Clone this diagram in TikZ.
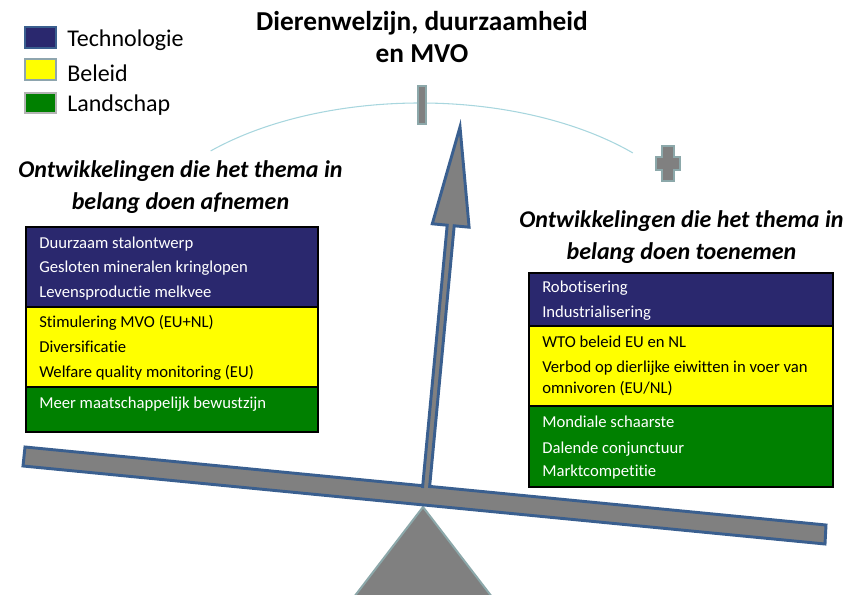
\documentclass[tikz,border=0pt]{standalone}
\usepackage{fontspec}
\setmainfont[Ligatures={NoCommon}]{Carlito}
\definecolor{navy}{RGB}{42,40,110}
\definecolor{ylw}{RGB}{255,255,0}
\definecolor{grn}{RGB}{0,128,0}
\definecolor{beamblue}{RGB}{58,95,143}
\definecolor{gryfill}{RGB}{128,128,128}
\definecolor{tealgray}{RGB}{140,168,170}
\definecolor{arcblue}{RGB}{168,214,222}
\definecolor{ylwedge}{RGB}{142,165,174}
\definecolor{grnedge}{RGB}{180,180,180}
\tikzset{
  boxtxt/.style={anchor=base west,inner sep=0pt,font=\fontsize{12.5}{15}\selectfont},
  wtxt/.style={boxtxt,text=white},
  btxt/.style={boxtxt,text=black},
  legtxt/.style={anchor=base west,inner sep=0pt,font=\fontsize{18}{21}\selectfont},
  headtxt/.style={anchor=base,inner sep=0pt,font=\fontsize{18}{22}\selectfont\bfseries\itshape},
  titletxt/.style={anchor=base,inner sep=0pt,font=\fontsize{20.5}{24}\selectfont\bfseries},
  outerbox/.style={draw=black,line width=2.2pt},
  divline/.style={draw=black,line width=0.8pt},
}
\begin{document}
\begin{tikzpicture}[x=0.75pt,y=-0.75pt]
\useasboundingbox (0,0) rectangle (846,595);
\clip (0,0) rectangle (846,595);
% legend
\draw[fill=navy,draw=beamblue,line width=1.6pt] (25,27) rectangle (56,48);
\draw[fill=ylw,draw=ylwedge,line width=1.6pt] (25,59) rectangle (56,80);
\draw[fill=grn,draw=grnedge,line width=1.6pt] (25,93) rectangle (56,113);
\node[legtxt] (lt) at (67,47) {Technologie};
\node[legtxt] (lb) at (67,82) {Beleid};
\node[legtxt] (ll) at (67,112) {Landschap};
% title
\node[titletxt] (t1) at (422,31) {Dierenwelzijn, duurzaamheid};
\node[titletxt] (t2) at (422,63) {en MVO};
% arc
\draw[arcblue,line width=0.8pt] (420,260) ++(224:291 and 157) arc[start angle=224,end angle=317,x radius=291,y radius=157];
% minus sign
\draw[fill=gryfill,draw=tealgray,line width=2pt] (418,86) rectangle (426,124);
% plus sign
\draw[fill=gryfill,draw=tealgray,line width=2pt]
  (662,146) -- (674,146) -- (674,157) -- (680,157) -- (680,170) -- (674,170) -- (674,181) -- (662,181) -- (662,170) -- (656,170) -- (656,157) -- (662,157) -- cycle;
% headings
\node[headtxt] (hl1) at (180.5,178) {Ontwikkelingen die het thema in};
\node[headtxt] (hl2) at (180.5,210) {belang doen afnemen};
\node[headtxt] (hr1) at (681.5,228) {Ontwikkelingen die het thema in};
\node[headtxt] (hr2) at (681.5,260) {belang doen toenemen};
% left box
\fill[navy] (26,227) rectangle (318,307);
\fill[ylw] (26,307) rectangle (318,387);
\fill[grn] (26,387) rectangle (318,432);
\draw[divline] (26,307) -- (318,307);
\draw[divline] (26,387) -- (318,387);
\draw[outerbox] (26,227) rectangle (318,432);
\node[wtxt] (a1) at (39,249) {Duurzaam stalontwerp};
\node[wtxt] (a2) at (39,273) {Gesloten mineralen kringlopen};
\node[wtxt] (a3) at (39,297) {Levensproductie melkvee};
\node[btxt] (a4) at (39,328) {Stimulering MVO (EU+NL)};
\node[btxt] (a5) at (39,352) {Diversificatie};
\node[btxt] (a6) at (39,377) {Welfare quality monitoring (EU)};
\node[wtxt] (a7) at (39,408) {Meer maatschappelijk bewustzijn};
% right box
\fill[navy] (529,273) rectangle (833,326);
\fill[ylw] (529,326) rectangle (833,406);
\fill[grn] (529,406) rectangle (833,487);
\draw[divline] (529,326) -- (833,326);
\draw[divline] (529,406) -- (833,406);
\draw[outerbox] (529,273) rectangle (833,487);
\node[wtxt] (b1) at (542,292) {Robotisering};
\node[wtxt] (b2) at (542,317) {Industrialisering};
\node[btxt] (b3) at (542,347) {WTO beleid EU en NL};
\node[btxt] (b4) at (542,372) {Verbod op dierlijke eiwitten in voer van};
\node[btxt] (b5) at (542,393) {omnivoren (EU/NL)};
\node[wtxt] (b6) at (542,427) {Mondiale schaarste};
\node[wtxt] (b7) at (542,453) {Dalende conjunctuur};
\node[wtxt] (b8) at (542,476) {Marktcompetitie};
% fulcrum
\draw[fill=gryfill,draw=tealgray,line width=1.5pt] (423,507) -- (525,640) -- (321,640) -- cycle;
% beam
\draw[fill=gryfill,draw=beamblue,line width=2.2pt,line join=miter] (25,447) -- (826,525) -- (825,544) -- (23,466) -- cycle;
% arrow
\fill[gryfill] (422.5,489) -- (447.2,225.2) -- (432.3,223.8) -- (460,127) -- (469.1,227.2) -- (454.2,225.8) -- (429.5,489) -- cycle;
\draw[beamblue,line width=2.2pt,line join=miter] (422.5,488) -- (447.2,225.2) -- (432.3,223.8) -- (460,127) -- (469.1,227.2) -- (454.2,225.8) -- (429.5,488);
\end{tikzpicture}
\end{document}
